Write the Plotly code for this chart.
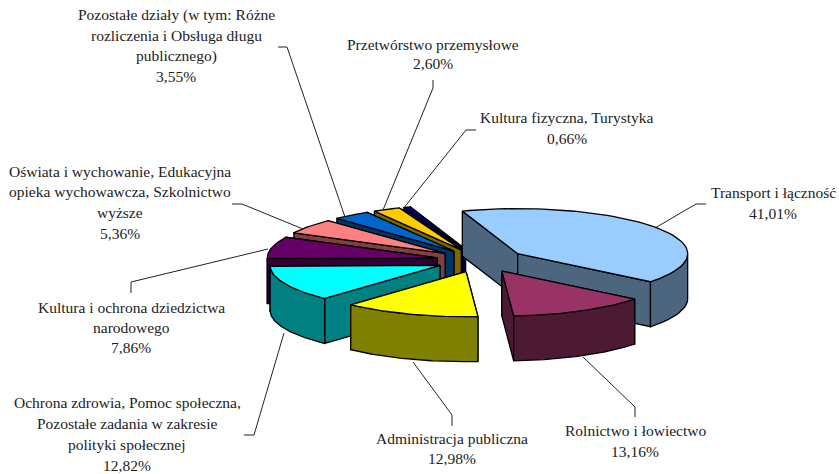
import numpy as np
import plotly.graph_objects as go

categories = ["Transport i łączność", "Rolnictwo i łowiectwo", "Administracja publiczna",
              "Ochrona zdrowia, Pomoc społeczna, Pozostałe zadania w zakresie polityki społecznej",
              "Kultura i ochrona dziedzictwa narodowego",
              "Oświata i wychowanie, Edukacyjna opieka wychowawcza, Szkolnictwo wyższe",
              "Pozostałe działy (w tym: Różne rozliczenia i Obsługa długu publicznego)",
              "Przetwórstwo przemysłowe", "Kultura fizyczna, Turystyka"]
values = [41.01, 13.16, 12.98, 12.82, 7.86, 5.36, 3.55, 2.60, 0.66]
top_colors = ["#99CCFF", "#993366", "#FFFF00", "#00FFFF", "#660066", "#FF8080", "#0066CC", "#FFCC00", "#000080"]
side_colors = ["#4D6680", "#4D1A33", "#808000", "#008080", "#330033", "#804040", "#003366", "#806600", "#000040"]

# pie projection (pixels of the plot)
CX, CY, RX, RY, DEPTH, PULL, START = 481, 260.5, 170, 45, 45, 0.264, -19.0

# label lines: (centre x, centre y, text)
labels = [
    (773, 192, "Transport i łączność"), (773, 213, "41,01%"),
    (635, 430, "Rolnictwo i łowiectwo"), (635, 451, "13,16%"),
    (452, 438, "Administracja publiczna"), (452, 458, "12,98%"),
    (127, 402, "Ochrona zdrowia, Pomoc społeczna,"), (127, 423, "Pozostałe zadania w zakresie"),
    (127, 444, "polityki społecznej"), (127, 465, "12,82%"),
    (131, 307, "Kultura i ochrona dziedzictwa"), (131, 327, "narodowego"), (131, 347, "7,86%"),
    (120, 171, "Oświata i wychowanie, Edukacyjna"), (120, 191, "opieka wychowawcza, Szkolnictwo"),
    (120, 212, "wyższe"), (120, 233, "5,36%"),
    (176, 15, "Pozostałe działy (w tym: Różne"), (176, 35, "rozliczenia i Obsługa długu"),
    (176, 56, "publicznego)"), (176, 76, "3,55%"),
    (433, 44, "Przetwórstwo przemysłowe"), (433, 63, "2,60%"),
    (567, 117, "Kultura fizyczna, Turystyka"), (567, 138, "0,66%"),
]
leaders = [
    [(655, 228), (696, 204), (706, 204)],
    [(583, 357), (635, 407), (635, 417)],
    [(413, 362), (452, 415), (452, 426)],
    [(284, 333), (254, 435), (244, 435)],
    [(268, 249), (131, 282), (131, 293)],
    [(303, 229), (242, 204), (232, 204)],
    [(345, 217), (287, 47), (278, 47)],
    [(383, 210), (433, 88), (433, 80)],
    [(403, 209), (466, 130), (476, 130)],
]

fig = go.Figure()


def poly(xs, ys, fill):
    fig.add_trace(go.Scatter(x=list(xs) + [xs[0]], y=list(ys) + [ys[0]], mode="lines", fill="toself",
                             fillcolor=fill, line=dict(color="#000000", width=1.3),
                             hoverinfo="skip", showlegend=False))


total = sum(values)
edges = START + np.concatenate([[0], np.cumsum(values)]) / total * 360.0
slices = []
for i, v in enumerate(values):
    a0, a1 = edges[i], edges[i + 1]
    mid = np.radians((a0 + a1) / 2)
    ax = CX + PULL * RX * np.sin(mid)
    ay = CY - PULL * RY * np.cos(mid)
    slices.append((ay, ax, a0, a1, i))

# back-to-front painter's order
for ay, ax, a0, a1, i in sorted(slices, key=lambda s: s[0]):
    t = np.radians(np.linspace(a0, a1, 60))
    px = ax + RX * np.sin(t)
    py = ay - RY * np.cos(t)
    # cut faces
    faces = [(px[0], py[0]), (px[-1], py[-1])]
    for fx, fy in sorted(faces, key=lambda f: f[1]):
        poly([ax, fx, fx, ax], [ay, fy, fy + DEPTH, ay + DEPTH], side_colors[i])
    # outer wall, front-facing part only
    front = np.cos(t) < 0
    if front.any():
        wx, wy = px[front], py[front]
        poly(list(wx) + list(wx[::-1]), list(wy) + list((wy + DEPTH)[::-1]), side_colors[i])
    poly([ax] + list(px), [ay] + list(py), top_colors[i])

for pts in leaders:
    fig.add_trace(go.Scatter(x=[p[0] for p in pts], y=[p[1] for p in pts], mode="lines",
                             line=dict(color="#222222", width=1), hoverinfo="skip", showlegend=False))

for x, y, txt in labels:
    fig.add_annotation(x=x, y=y, text=txt, showarrow=False, xanchor="center", yanchor="middle",
                       font=dict(family="Liberation Serif", size=15.5, color="#222222"))

fig.update_layout(width=839, height=474, margin=dict(l=0, r=0, t=0, b=0),
                  paper_bgcolor="white", plot_bgcolor="white",
                  xaxis=dict(range=[0, 839], visible=False, fixedrange=True),
                  yaxis=dict(range=[474, 0], visible=False, fixedrange=True))
fig.write_html("out.html", config={"displayModeBar": False},
               post_script="document.body.style.margin='0';document.body.style.overflow='hidden';")
